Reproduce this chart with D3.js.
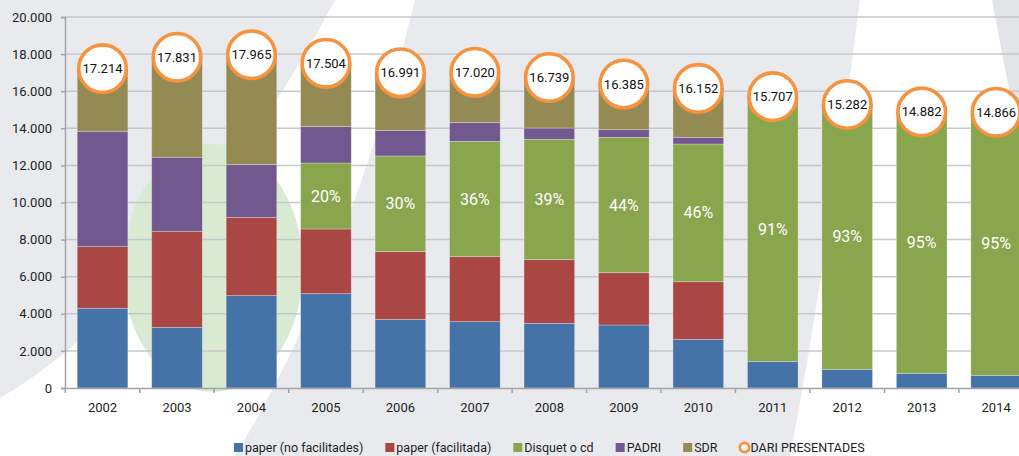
<!DOCTYPE html>
<html>
<head>
<meta charset="utf-8">
<script src="https://cdn.jsdelivr.net/npm/d3@7/dist/d3.min.js"></script>
<style>
  html, body { margin: 0; padding: 0; background: #e9eaee; }
  svg { display: block; font-family: Roboto, "Noto Sans", sans-serif; }
</style>
</head>
<body>
<svg id="chart" width="1019" height="456"></svg>
<script>
// ---- data ----
const years = ["2002","2003","2004","2005","2006","2007","2008","2009","2010","2011","2012","2013","2014"];
const paperNoFacilitades = [4300, 3270, 4980, 5085, 3700, 3575, 3486, 3396, 2624, 1420, 1006, 790, 683];
const paperFacilitada    = [3320, 5180, 4220, 3486, 3650, 3505, 3432, 2821, 3106, 0, 0, 0, 0];
const disquetOCd         = [0, 0, 0, 3558, 5160, 6217, 6487, 7296, 7424, 14287, 14276, 14092, 14183];
const padri              = [6220, 3990, 2840, 1960, 1365, 1006, 611, 413, 359, 0, 0, 0, 0];
const sdr                = [3374, 5391, 5925, 3415, 3116, 2717, 2723, 2459, 2639, 0, 0, 0, 0];
const dariPresentades    = [17214, 17831, 17965, 17504, 16991, 17020, 16739, 16385, 16152, 15707, 15282, 14882, 14866];
const disquetShare       = [null, null, null, 20, 30, 36, 39, 44, 46, 91, 93, 95, 95];
const yTicks = [0, 2000, 4000, 6000, 8000, 10000, 12000, 14000, 16000, 18000, 20000];

const seriesNames  = ["paper (no facilitades)", "paper (facilitada)", "Disquet o cd", "PADRI", "SDR"];
const seriesColors = ["#4572A7", "#AA4643", "#89A54E", "#71588F", "#948A54"];
const circleName   = "DARI PRESENTADES";
const circleColor  = "#F7923F";

// ---- layout ----
const W = 1019, H = 456;
const svg = d3.select("#chart");
const fmt = d3.formatLocale({decimal: ",", thousands: ".", grouping: [3], currency: ["", "€"]}).format(",d");

// background decoration
const bg = svg.append("g");
bg.append("rect").attr("width", W).attr("height", H).attr("fill", "#e9eaee");
bg.append("path")
  .attr("d", "M335,0 L415,0 C385,120 330,300 235,456 L0,456 L0,398 C120,330 250,160 335,0 Z")
  .attr("fill", "#ffffff");
bg.append("path")
  .attr("d", "M860,0 L1019,0 L1019,456 L790,456 C820,300 840,150 860,0 Z")
  .attr("fill", "#ffffff");
bg.append("path")
  .attr("d", "M992,0 L1019,0 L1019,130 C1008,90 1000,40 992,0 Z")
  .attr("fill", "#e3e4e8");
bg.append("ellipse")
  .attr("cx", 213).attr("cy", 268).attr("rx", 90).attr("ry", 124)
  .attr("fill", "#d9ead3");

const x = d3.scaleBand()
  .domain(years)
  .range([65.3, 1033.4])
  .paddingInner(0.32)
  .paddingOuter(0.16);

const y = d3.scaleLinear().domain([0, 20000]).range([388, 17]);

// gridlines
svg.append("g")
  .selectAll("line")
  .data(yTicks.filter(d => d > 0))
  .join("line")
  .attr("x1", 65).attr("x2", W)
  .attr("y1", d => y(d)).attr("y2", d => y(d))
  .attr("stroke", "#c6c7ca").attr("stroke-width", 1.5);

// stacked bars
const rows = years.map((yr, i) => ({
  year: yr,
  s0: paperNoFacilitades[i], s1: paperFacilitada[i], s2: disquetOCd[i], s3: padri[i], s4: sdr[i]
}));
const stack = d3.stack().keys(["s0","s1","s2","s3","s4"]);
const layers = stack(rows);

svg.append("g")
  .selectAll("g")
  .data(layers)
  .join("g")
  .attr("fill", (d, i) => seriesColors[i])
  .selectAll("rect")
  .data(d => d.filter(p => p[1] - p[0] > 0))
  .join("rect")
  .attr("x", d => x(d.data.year))
  .attr("width", x.bandwidth())
  .attr("y", d => y(d[1]))
  .attr("height", d => y(d[0]) - y(d[1]))
  .attr("stroke", "rgba(255,255,255,0.35)")
  .attr("stroke-width", 0.8);

// percentage labels in the green segment
const green = layers[2];
svg.append("g")
  .selectAll("text")
  .data(green.filter((d, i) => disquetShare[i] != null))
  .join("text")
  .attr("x", d => x(d.data.year) + x.bandwidth() / 2)
  .attr("y", d => (y(d[0]) + y(d[1])) / 2)
  .attr("text-anchor", "middle")
  .attr("dominant-baseline", "central")
  .attr("fill", "#ffffff")
  .attr("font-size", 16)
  .text(d => disquetShare[years.indexOf(d.data.year)] + "%");

// axes
const yAxis = d3.axisLeft(y).tickValues(yTicks).tickSize(4).tickPadding(9).tickFormat(fmt);
const yg = svg.append("g").attr("transform", "translate(65,0)").call(yAxis);
yg.select(".domain").attr("stroke", "#a3a4a8").attr("stroke-width", 1.5);
yg.selectAll(".tick line").attr("stroke", "#a3a4a8").attr("stroke-width", 1.5);
yg.selectAll("text").attr("font-size", 13).attr("fill", "#1e1e1e").attr("font-family", "Roboto, sans-serif");

const xAxis = d3.axisBottom(x).tickSize(0).tickPadding(15);
const xg = svg.append("g").attr("transform", "translate(0,388)").call(xAxis);
xg.select(".domain").attr("stroke", "#a3a4a8").attr("stroke-width", 1.5);
xg.selectAll("text").attr("font-size", 13).attr("fill", "#1e1e1e").attr("font-family", "Roboto, sans-serif");
// tick marks at band boundaries
xg.append("g").selectAll("line")
  .data(years)
  .join("line")
  .attr("x1", d => x(d) - x.step() * x.paddingInner() / 2)
  .attr("x2", d => x(d) - x.step() * x.paddingInner() / 2)
  .attr("y1", 0).attr("y2", 5)
  .attr("stroke", "#a3a4a8").attr("stroke-width", 1.5);

// total circles
const circ = svg.append("g")
  .selectAll("g")
  .data(years.map((yr, i) => ({year: yr, v: dariPresentades[i]})))
  .join("g")
  .attr("transform", d => `translate(${x(d.year) + x.bandwidth() / 2},${y(d.v)})`);
circ.append("circle")
  .attr("r", 23.8)
  .attr("fill", "#ffffff")
  .attr("stroke", circleColor)
  .attr("stroke-width", 3.6);
circ.append("text")
  .attr("text-anchor", "middle")
  .attr("dominant-baseline", "central")
  .attr("font-size", 13)
  .attr("fill", "#111")
  .text(d => fmt(d.v));

// legend
const legendItems = seriesNames.map((n, i) => ({name: n, color: seriesColors[i], type: "rect"}))
  .concat([{name: circleName, color: circleColor, type: "circle"}]);
const lg = svg.append("g");
const items = lg.selectAll("g").data(legendItems).join("g");
items.append("text")
  .attr("x", 11)
  .attr("y", 452)
  .attr("font-size", 12.5)
  .attr("fill", "#1e1e1e")
  .text(d => d.name);
items.filter(d => d.type === "rect").append("rect")
  .attr("x", 0).attr("y", 443).attr("width", 9).attr("height", 9)
  .attr("fill", d => d.color);
items.filter(d => d.type === "circle").append("circle")
  .attr("cx", 5).attr("cy", 447.5).attr("r", 4.6)
  .attr("fill", "#fff").attr("stroke", d => d.color).attr("stroke-width", 2.8);
const gap = 22;
let widths = [];
items.each(function() { widths.push(11 + d3.select(this).select("text").node().getComputedTextLength()); });
const total = d3.sum(widths) + gap * (widths.length - 1);
const centerX = (x.range()[0] + x.range()[1]) / 2;
let cx = centerX - total / 2;
items.each(function(d, i) {
  d3.select(this).attr("transform", `translate(${cx},0)`);
  cx += widths[i] + gap;
});
</script>
</body>
</html>
